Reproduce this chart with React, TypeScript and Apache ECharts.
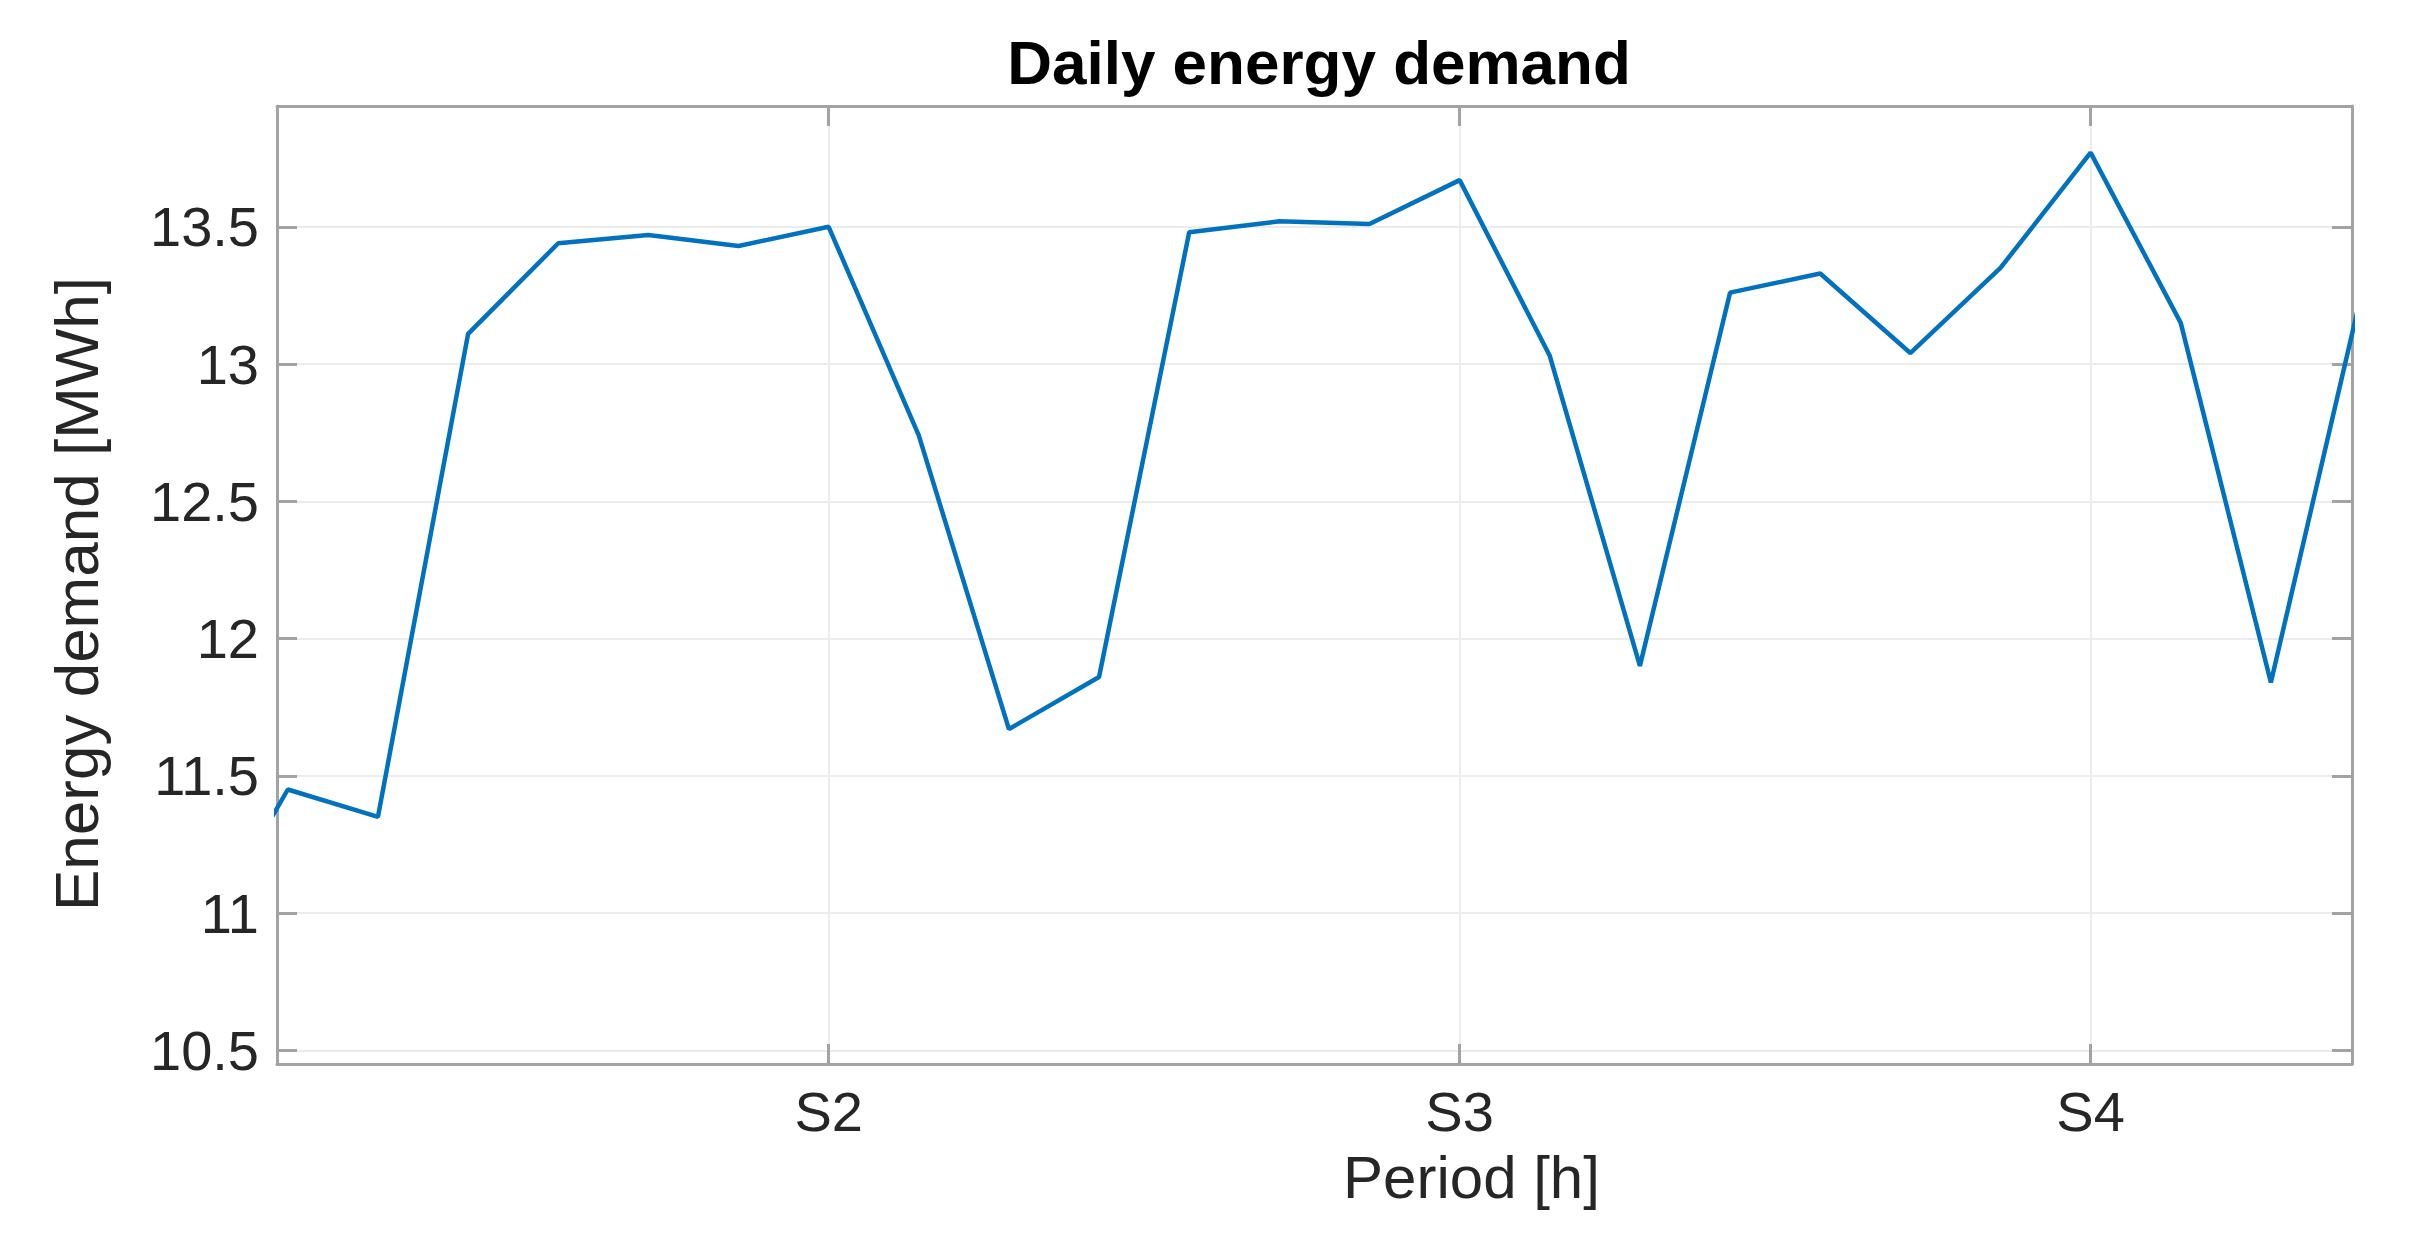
import React, { useEffect, useRef } from "react";
import * as echarts from "echarts";

// Period index (S1 = 0, S2 = 7, S3 = 14, S4 = 21)
const periods = [0, 1, 2, 3, 4, 5, 6, 7, 8, 9, 10, 11, 12, 13, 14, 15, 16, 17, 18, 19, 20, 21, 22, 23, 24];
// Energy demand [MWh]
const demand = [
  10.88, 11.45, 11.35, 13.11, 13.44, 13.47, 13.43, 13.5, 12.74, 11.67, 11.86, 13.48, 13.52,
  13.51, 13.67, 13.03, 11.9, 13.26, 13.33, 13.04, 13.35, 13.77, 13.15, 11.84, 13.25,
];
const xTickValues = [7, 14, 21];
const xTickLabels = ["S2", "S3", "S4"];
const yTickValues = [10.5, 11, 11.5, 12, 12.5, 13, 13.5];
const yTickLabels = ["10.5", "11", "11.5", "12", "12.5", "13", "13.5"];

const FONT = "'Liberation Sans', Arial, Helvetica, sans-serif";
const AXIS_COLOR = "#a3a3a3";
const TEXT_COLOR = "#262626";
const GRID_COLOR = "#ececec";

export default function App() {
  const ref = useRef<HTMLDivElement>(null);

  useEffect(() => {
    if (!ref.current) return;
    const chart = echarts.init(ref.current, null, { renderer: "svg" });
    const axisLine = { show: true, onZero: false, lineStyle: { color: AXIS_COLOR, width: 3 } };
    const tick = (vals: number[]) => ({
      show: true,
      inside: true,
      length: 20,
      customValues: vals,
      lineStyle: { color: AXIS_COLOR, width: 3 },
    });
    chart.setOption({
      animation: false,
      backgroundColor: "#ffffff",
      textStyle: { fontFamily: FONT },
      title: {
        text: "Daily energy demand",
        left: 1314,
        textAlign: "center",
        top: 26,
        textStyle: { fontSize: 62, fontWeight: "bold", color: "#000000", fontFamily: FONT },
      },
      grid: { left: 277, right: 61, top: 106, bottom: 175, outerBoundsMode: "none" },
      xAxis: [
        {
          type: "value",
          position: "bottom",
          min: 0.88,
          max: 23.9,
          axisLine,
          axisTick: tick(xTickValues),
          axisLabel: {
            customValues: xTickValues,
            formatter: (v: number) => xTickLabels[xTickValues.indexOf(v)] ?? "",
            fontSize: 56,
            lineHeight: 48,
            color: TEXT_COLOR,
            fontFamily: FONT,
            margin: 23,
          },
          splitLine: { show: true, lineStyle: { color: GRID_COLOR, width: 2 } },
          name: "Period [h]",
          nameLocation: "middle",
          nameGap: 88,
          nameMoveOverlap: false,
          nameTextStyle: {
            fontSize: 60,
            lineHeight: 50,
            color: TEXT_COLOR,
            fontFamily: FONT,
            padding: [0, 0, 0, 314],
          },
        },
        {
          type: "value",
          position: "top",
          min: 0.88,
          max: 23.9,
          axisLine,
          axisTick: tick(xTickValues),
          axisLabel: { show: false },
          splitLine: { show: false },
        },
      ],
      yAxis: [
        {
          type: "value",
          position: "left",
          min: 10.45,
          max: 13.94,
          axisLine,
          axisTick: tick(yTickValues),
          axisLabel: {
            customValues: yTickValues,
            formatter: (v: number) => yTickLabels[yTickValues.indexOf(v)] ?? String(v),
            fontSize: 56,
            color: TEXT_COLOR,
            fontFamily: FONT,
            margin: 18,
          },
          splitLine: { show: true, lineStyle: { color: GRID_COLOR, width: 2 } },
          name: "Energy demand [MWh]",
          nameLocation: "middle",
          nameGap: 170,
          nameMoveOverlap: false,
          nameTextStyle: { fontSize: 62, color: TEXT_COLOR, fontFamily: FONT, padding: [0, 18, 0, 0] },
        },
        {
          type: "value",
          position: "right",
          min: 10.45,
          max: 13.94,
          axisLine,
          axisTick: tick(yTickValues),
          axisLabel: { show: false },
          splitLine: { show: false },
        },
      ],
      series: [
        {
          type: "line",
          xAxisIndex: 0,
          yAxisIndex: 0,
          data: periods.map((p, i) => [p, demand[i]]),
          showSymbol: false,
          clip: true,
          lineStyle: { color: "#0072BD", width: 4.5 },
          itemStyle: { color: "#0072BD" },
        },
      ],
    });
    return () => chart.dispose();
  }, []);

  return (
    <div
      ref={ref}
      style={{ position: "fixed", left: 0, top: 0, width: 2413, height: 1239, background: "#fff" }}
    />
  );
}
